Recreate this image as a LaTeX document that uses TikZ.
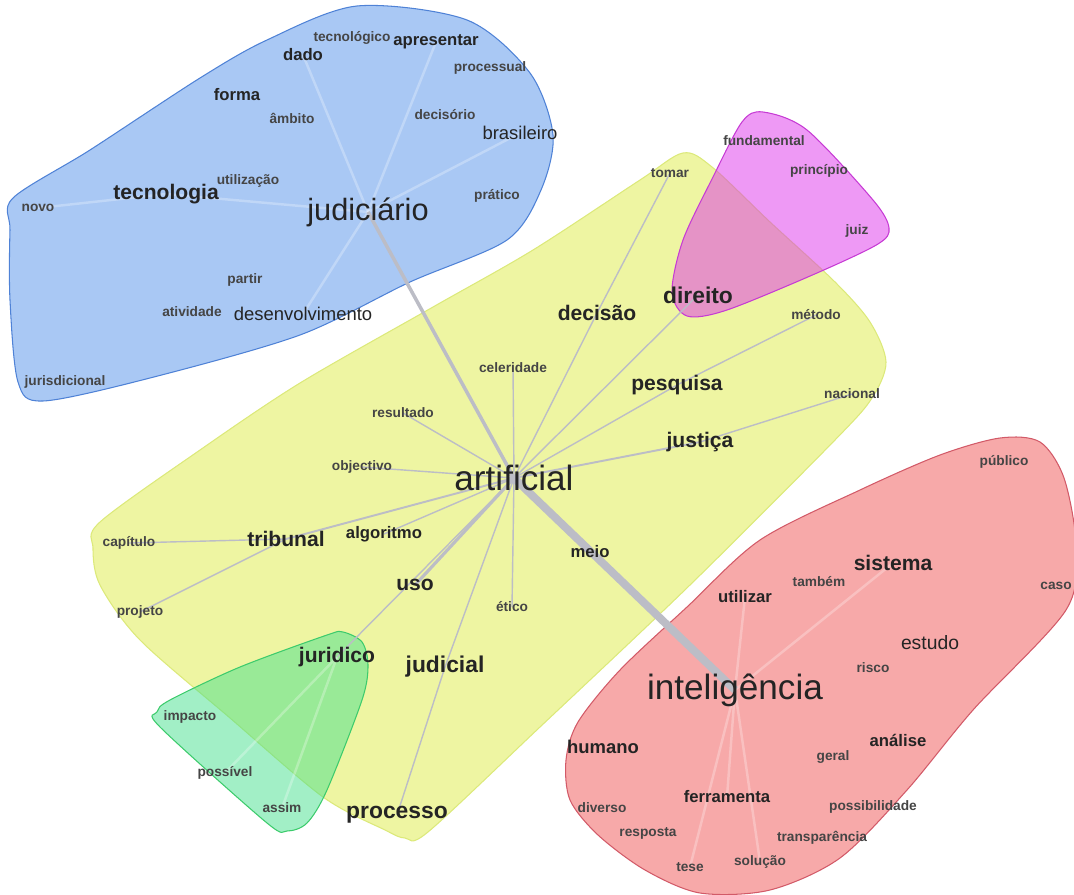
\documentclass[tikz,border=0pt]{standalone}
\usepackage{fontspec}
\setmainfont{Liberation Sans}
\usepackage{xcolor}
\usepackage{tikz}
\definecolor{grafblue}{HTML}{A9C8F4}
\definecolor{grafblueline}{HTML}{4F82D6}
\definecolor{grafyellow}{HTML}{EEF5A2}
\definecolor{grafyellowline}{HTML}{DCE97A}
\definecolor{grafred}{HTML}{F7A9A9}
\definecolor{grafredline}{HTML}{D25A68}
\definecolor{grafgreen}{HTML}{46E08E}
\definecolor{grafgreenline}{HTML}{3CCB6C}
\definecolor{grafpink}{HTML}{DD33EB}
\definecolor{grafpinkline}{HTML}{C63BD4}
\definecolor{graflink}{HTML}{BCBDC6}
\definecolor{grafink}{HTML}{242424}
\pgfdeclarelayer{blobs}
\pgfdeclarelayer{links}
\pgfsetlayers{blobs,links,main}

\begin{document}
\begin{tikzpicture}[
        x=0.02cm, y=-0.02cm,
        bigword/.style={font=\fontsize{20}{22}\selectfont,
                        text=grafink, inner sep=1pt},
        midword/.style={font=\fontsize{12}{14}\selectfont\bfseries,
                        text=grafink, inner sep=1pt},
        word/.style={font=\fontsize{9.5}{11}\selectfont\bfseries,
                     text=grafink, inner sep=1pt},
        smallword/.style={font=\fontsize{7.8}{9}\selectfont\bfseries,
                          text=grafink!85, inner sep=1pt},
        link/.style={graflink, line width=0.8pt},
        faintlink/.style={white, opacity=0.28, line width=1.4pt},
        blob/.style={line width=0.6pt}
      ]
        \useasboundingbox (0,0) rectangle (1074,895);
        % Clusters
        \begin{pgfonlayer}{blobs}
        \draw[blob, fill=grafblue, draw=grafblueline]
          plot[smooth cycle, tension=0.5] coordinates {(13,198) (90,150)
          (200,78) (267,40) (357,6) (467,20) (530,73) (553,135) (541,190)
          (507,240) (410,282) (300,335) (150,378) (43,401) (18,382)
          (10,300) (10,230)};
        \draw[blob, fill=grafyellow, draw=grafyellowline]
          plot[smooth cycle, tension=0.5] coordinates {(93,548) (100,522)
          (200,450) (300,383) (433,307) (533,250) (640,180) (683,153)
          (712,167) (770,222) (835,282) (870,322) (886,362) (872,398)
          (835,440) (690,585) (540,727) (428,832) (405,838) (385,830)
          (323,797) (230,718) (140,640) (100,585)};
        \draw[blob, fill=grafred, draw=grafredline]
          plot[smooth cycle, tension=0.5] coordinates {(1000,438) (1040,442)
          (1064,478) (1076,545) (1066,610) (973,710) (907,790) (840,858)
          (770,890) (700,893) (645,870) (598,835) (570,800) (566,760)
          (578,722) (620,670) (687,607) (760,540) (860,490) (940,455)};
        \draw[blob, fill=grafgreen, fill opacity=0.5, draw=grafgreenline]
          plot[smooth cycle, tension=0.5] coordinates {(343,632) (362,642)
          (368,665) (362,700) (327,790) (307,823) (287,831) (267,823)
          (160,727) (157,712) (170,700) (240,667) (327,635)};
        \draw[blob, fill=grafpink, fill opacity=0.5, draw=grafpinkline]
          plot[smooth cycle, tension=0.5] coordinates {(763,112) (807,130)
          (873,200) (889,228) (878,244) (817,273) (727,310) (687,316)
          (672,292) (683,240) (713,177) (742,122)};
        \end{pgfonlayer}
        % Blue cluster
        \node[smallword] (tecnologico) at (352,38) {tecnológico};
        \node[word] (apresentar) at (436,42) {apresentar};
        \node[word] (dado) at (303,55) {dado};
        \node[smallword] (processual) at (490,68) {processual};
        \node[word] (forma) at (237,95) {forma};
        \node[smallword] (ambito) at (292,118) {âmbito};
        \node[smallword] (decisorio) at (445,115) {decisório};
        \node[font=\fontsize{10.5}{12}\selectfont, text=grafink] (brasileiro) at (520,133) {brasileiro};
        \node[midword] (tecnologia) at (166,194) {tecnologia};
        \node[smallword] (utilizacao) at (248,181) {utilização};
        \node[smallword] (novo) at (38,208) {novo};
        \node[bigword, font=\fontsize{17.5}{20}\selectfont] (judiciario) at (368,212) {judiciário};
        \node[smallword] (pratico) at (497,196) {prático};
        \node[smallword] (partir) at (245,280) {partir};
        \node[smallword] (atividade) at (192,312) {atividade};
        \node[word, font=\fontsize{10.5}{12}\selectfont] (desenvolvimento) at (303,314) {desenvolvimento};
        \node[smallword] (jurisdicional) at (65,382) {jurisdicional};
        % Pink cluster
        \node[smallword] (fundamental) at (764,141) {fundamental};
        \node[smallword] (principio) at (819,171) {princípio};
        \node[smallword] (juiz) at (857,231) {juiz};
        \node[midword, font=\fontsize{13}{15}\selectfont\bfseries] (direito) at (698,295) {direito};
        % Yellow cluster
        \node[smallword] (tomar) at (670,173) {tomar};
        \node[midword] (decisao) at (597,313) {decisão};
        \node[smallword] (metodo) at (816,315) {método};
        \node[smallword] (celeridade) at (513,368) {celeridade};
        \node[midword] (pesquisa) at (677,385) {pesquisa};
        \node[smallword] (nacional) at (852,394) {nacional};
        \node[smallword] (resultado) at (403,413) {resultado};
        \node[midword] (justica) at (700,442) {justiça};
        \node[smallword] (objectivo) at (362,467) {objectivo};
        \node[bigword] (artificial) at (514,478) {artificial};
        \node[smallword] (capitulo) at (129,543) {capítulo};
        \node[midword] (tribunal) at (286,539) {tribunal};
        \node[word] (algoritmo) at (384,534) {algoritmo};
        \node[word] (meio) at (590,552) {meio};
        \node[midword] (uso) at (415,585) {uso};
        \node[smallword] (projeto) at (140,612) {projeto};
        \node[smallword] (etico) at (512,607) {ético};
        \node[midword, font=\fontsize{13}{15}\selectfont\bfseries] (judicial) at (445,667) {judicial};
        \node[midword, font=\fontsize{13}{15}\selectfont\bfseries] (processo) at (397,815) {processo};
        % Green cluster
        \node[midword] (juridico) at (337,657) {juridico};
        \node[smallword] (impacto) at (190,717) {impacto};
        \node[smallword] (possivel) at (225,773) {possível};
        \node[smallword] (assim) at (282,808) {assim};
        % Red cluster
        \node[smallword] (publico) at (1004,462) {público};
        \node[midword] (sistema) at (893,563) {sistema};
        \node[smallword] (caso) at (1056,586) {caso};
        \node[smallword] (tambem) at (819,582) {também};
        \node[word] (utilizar) at (745,597) {utilizar};
        \node[word, font=\fontsize{11}{13}\selectfont] (estudo) at (930,643) {estudo};
        \node[smallword] (risco) at (873,668) {risco};
        \node[bigword] (inteligencia) at (735,690) {inteligência};
        \node[word, font=\fontsize{10.5}{12}\selectfont\bfseries] (humano) at (603,747) {humano};
        \node[word] (analise) at (898,740) {análise};
        \node[smallword] (geral) at (833,757) {geral};
        \node[word] (ferramenta) at (727,797) {ferramenta};
        \node[smallword] (diverso) at (602,808) {diverso};
        \node[smallword] (possibilidade) at (873,807) {possibilidade};
        \node[smallword] (resposta) at (648,833) {resposta};
        \node[smallword] (transparencia) at (822,838) {transparência};
        \node[smallword] (tese) at (690,867) {tese};
        \node[smallword] (solucao) at (760,862) {solução};
        % Connections
        \begin{pgfonlayer}{links}
        \draw[faintlink] (judiciario.center) -- (tecnologia.center);
        \draw[faintlink] (tecnologia.center) -- (novo.center);
        \draw[faintlink] (judiciario.center) -- (dado.center);
        \draw[faintlink] (judiciario.center) -- (apresentar.center);
        \draw[faintlink] (judiciario.center) -- (brasileiro.center);
        \draw[faintlink] (judiciario.center) -- (desenvolvimento.center);
        \draw[faintlink] (inteligencia.center) -- (sistema.center);
        \draw[faintlink] (inteligencia.center) -- (utilizar.center);
        \draw[faintlink] (inteligencia.center) -- (ferramenta.center);
        \draw[faintlink] (inteligencia.center) -- (tese.center);
        \draw[faintlink] (inteligencia.center) -- (solucao.center);
        \draw[faintlink] (juridico.center) -- (possivel.center);
        \draw[faintlink] (juridico.center) -- (assim.center);
        \draw[link, line width=2pt] (artificial.center) -- (judiciario.center);
        \draw[link] (artificial.center) -- (decisao.center);
        \draw[link] (decisao.center) -- (tomar.center);
        \draw[link] (artificial.center) -- (direito.center);
        \draw[link] (artificial.center) -- (pesquisa.center);
        \draw[link] (pesquisa.center) -- (metodo.center);
        \draw[link, line width=1.1pt] (artificial.center) -- (justica.center);
        \draw[link] (justica.center) -- (nacional.center);
        \draw[link] (artificial.center) -- (celeridade.center);
        \draw[link] (artificial.center) -- (resultado.center);
        \draw[link] (artificial.center) -- (objectivo.center);
        \draw[link, line width=1.1pt] (artificial.center) -- (tribunal.center);
        \draw[link] (tribunal.center) -- (capitulo.center);
        \draw[link] (tribunal.center) -- (projeto.center);
        \draw[link] (artificial.center) -- (algoritmo.center);
        \draw[link, line width=1.8pt] (artificial.center) -- (uso.center);
        \draw[link] (artificial.center) -- (juridico.center);
        \draw[link] (artificial.center) -- (judicial.center);
        \draw[link] (judicial.center) -- (processo.center);
        \draw[link] (artificial.center) -- (etico.center);
        \draw[link, line width=4.5pt] (artificial.center) -- (inteligencia.center);
        \end{pgfonlayer}
      \end{tikzpicture}
\end{document}
